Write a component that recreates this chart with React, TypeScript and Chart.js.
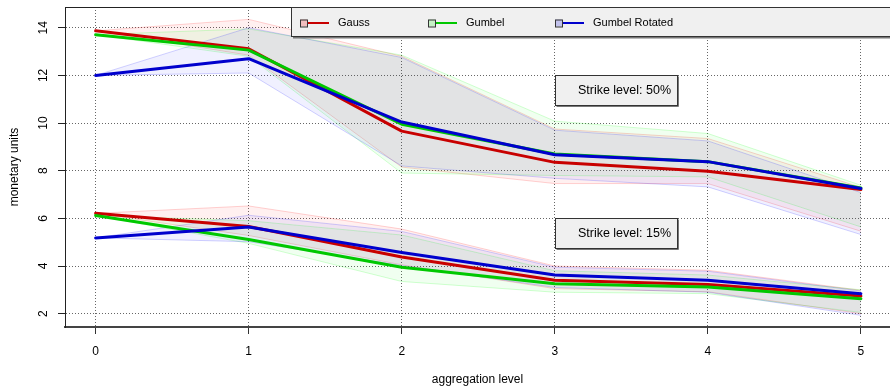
import React, { useEffect, useRef } from 'react';
import { Chart, registerables } from 'chart.js';

Chart.register(...registerables);

// ---------- data ----------
const xLevels = [0, 1, 2, 3, 4, 5];
const xTickValues = [0, 1, 2, 3, 4, 5];
const yTickValues = [2, 4, 6, 8, 10, 12, 14];
const seriesNames = ['Gauss', 'Gumbel', 'Gumbel Rotated'];

// Strike level 50%
const gauss50 = [13.87, 13.12, 9.66, 8.35, 7.98, 7.21];
const gumbel50 = [13.71, 13.06, 9.95, 8.7, 8.38, 7.27];
const gumbelRot50 = [12.0, 12.7, 10.04, 8.67, 8.38, 7.25];
const gauss50Upper = [13.87, 14.35, 12.8, 9.75, 9.35, 7.3];
const gauss50Lower = [13.87, 12.85, 8.15, 7.46, 7.46, 5.46];
const gumbel50Upper = [13.71, 13.95, 12.85, 10.08, 9.56, 7.39];
const gumbel50Lower = [13.71, 12.8, 7.9, 7.8, 7.74, 5.64];
const gumbelRot50Upper = [12.0, 14.0, 12.75, 9.7, 9.25, 7.08];
const gumbelRot50Lower = [12.0, 12.1, 8.2, 7.68, 7.32, 5.32];

// Strike level 15%
const gauss15 = [6.21, 5.66, 4.38, 3.4, 3.22, 2.74];
const gumbel15 = [6.12, 5.11, 3.95, 3.26, 3.12, 2.63];
const gumbelRot15 = [5.18, 5.64, 4.57, 3.62, 3.4, 2.84];
const gauss15Upper = [6.21, 6.52, 5.55, 4.0, 3.82, 2.98];
const gauss15Lower = [6.21, 5.28, 4.05, 3.05, 2.92, 2.0];
const gumbel15Upper = [6.12, 5.9, 5.3, 3.8, 3.62, 3.0];
const gumbel15Lower = [6.12, 4.95, 3.35, 2.9, 2.84, 2.05];
const gumbelRot15Upper = [5.18, 6.13, 5.45, 3.95, 3.78, 2.95];
const gumbelRot15Lower = [5.18, 5.02, 4.02, 3.1, 2.9, 1.93];

const strikeLabels = ['Strike level: 50%', 'Strike level: 15%'];
const strikeAnchorX = [3, 3];
const strikeAnchorY = [12, 6];

// ---------- styles ----------
const FONT = "'Liberation Sans', Arial, Helvetica, sans-serif";
const lineColors = ['rgb(200,0,0)', 'rgb(0,200,0)', 'rgb(0,0,205)'];
const bandFills = ['rgba(255,0,0,0.06)', 'rgba(0,255,0,0.06)', 'rgba(0,0,255,0.06)'];
const bandEdges = ['rgba(255,0,0,0.18)', 'rgba(0,255,0,0.18)', 'rgba(0,0,255,0.18)'];
const swatchFills = ['#f0bebe', '#c6f0c6', '#c2c2ec'];

const pts = (ys: number[]) => xLevels.map((x, i) => ({ x, y: ys[i] }));

function buildDatasets() {
  const ds: any[] = [];
  const bands = [
    [gauss50Upper, gauss50Lower, 0],
    [gumbel50Upper, gumbel50Lower, 1],
    [gumbelRot50Upper, gumbelRot50Lower, 2],
    [gauss15Upper, gauss15Lower, 0],
    [gumbel15Upper, gumbel15Lower, 1],
    [gumbelRot15Upper, gumbelRot15Lower, 2],
  ] as [number[], number[], number][];
  bands.forEach(([up, lo, s], k) => {
    ds.push({
      label: seriesNames[s] + ' upper',
      data: pts(up),
      borderColor: bandEdges[s],
      borderWidth: 1,
      pointRadius: 0,
      fill: false,
      order: 20 - k,
    });
    ds.push({
      label: seriesNames[s] + ' lower',
      data: pts(lo),
      borderColor: bandEdges[s],
      borderWidth: 1,
      pointRadius: 0,
      backgroundColor: bandFills[s],
      fill: '-1',
      order: 20 - k,
    });
  });
  const mains = [
    [gauss50, 0],
    [gumbel50, 1],
    [gumbelRot50, 2],
    [gauss15, 0],
    [gumbel15, 1],
    [gumbelRot15, 2],
  ] as [number[], number][];
  mains.forEach(([ys, s]) => {
    ds.push({
      label: seriesNames[s],
      data: pts(ys),
      borderColor: lineColors[s],
      borderWidth: 3,
      pointRadius: 0,
      fill: false,
      borderCapStyle: 'round',
      borderJoinStyle: 'round',
      order: 3 - s,
    });
  });
  return ds;
}

const overlayPlugin = {
  id: 'overlay',
  afterDraw(chart: any) {
    const { ctx, chartArea: ca, scales } = chart;
    ctx.save();
    // top border of plot box
    ctx.strokeStyle = '#222';
    ctx.lineWidth = 1;
    ctx.beginPath();
    ctx.moveTo(ca.left, Math.round(ca.top) + 0.5);
    ctx.lineTo(ca.right, Math.round(ca.top) + 0.5);
    ctx.stroke();

    // annotation boxes
    strikeLabels.forEach((txt, i) => {
      const px = Math.round(scales.x.getPixelForValue(strikeAnchorX[i]));
      const py = Math.round(scales.y.getPixelForValue(strikeAnchorY[i]));
      const w = 123;
      const h = 31;
      ctx.fillStyle = '#f0f0f0';
      ctx.fillRect(px, py, w, h);
      ctx.strokeStyle = '#777';
      ctx.lineWidth = 1;
      ctx.beginPath();
      ctx.moveTo(px + 1.5, py + h + 0.5);
      ctx.lineTo(px + w + 0.5, py + h + 0.5);
      ctx.lineTo(px + w + 0.5, py + 1.5);
      ctx.stroke();
      ctx.strokeStyle = '#333';
      ctx.strokeRect(px + 0.5, py + 0.5, w - 1, h - 1);
      ctx.fillStyle = '#000';
      ctx.font = `12.5px ${FONT}`;
      ctx.textAlign = 'right';
      ctx.textBaseline = 'middle';
      ctx.fillText(txt, px + w - 7, py + h / 2 + 0.5);
    });

    // legend box
    const lx = 291;
    const ly = Math.round(ca.top);
    const lw = 620;
    const lh = 30;
    ctx.fillStyle = '#f0f0f0';
    ctx.fillRect(lx, ly, lw, lh);
    ctx.strokeStyle = '#777';
    ctx.lineWidth = 1.5;
    ctx.beginPath();
    ctx.moveTo(lx + 2, ly + lh + 0.75);
    ctx.lineTo(lx + lw, ly + lh + 0.75);
    ctx.stroke();
    ctx.strokeStyle = '#333';
    ctx.lineWidth = 1;
    ctx.strokeRect(lx + 0.5, ly + 0.5, lw, lh - 1);

    const itemX = [300, 428, 555];
    const cy = ly + 16;
    ctx.font = `11px ${FONT}`;
    ctx.textAlign = 'left';
    ctx.textBaseline = 'middle';
    seriesNames.forEach((name, i) => {
      const x0 = itemX[i];
      ctx.strokeStyle = lineColors[i];
      ctx.lineWidth = 2;
      ctx.beginPath();
      ctx.moveTo(x0 + 7, cy);
      ctx.lineTo(x0 + 29, cy);
      ctx.stroke();
      ctx.fillStyle = swatchFills[i];
      ctx.fillRect(x0, cy - 3.5, 7, 7);
      ctx.strokeStyle = '#333';
      ctx.lineWidth = 1;
      ctx.strokeRect(x0 + 0.5, cy - 3, 7, 7);
      ctx.fillStyle = '#000';
      ctx.fillText(name, x0 + 38, cy);
    });
    ctx.restore();
  },
};

export default function App() {
  const ref = useRef<HTMLCanvasElement | null>(null);
  useEffect(() => {
    document.body.style.margin = '0';
    const canvas = ref.current;
    if (!canvas) return;
    const chart = new Chart(canvas, {
      type: 'line',
      data: { datasets: buildDatasets() },
      plugins: [overlayPlugin],
      options: {
        animation: false,
        responsive: false,
        devicePixelRatio: 1,
        layout: { padding: { top: 7, left: 0, right: 0, bottom: 0 } },
        plugins: { legend: { display: false }, tooltip: { enabled: false } },
        elements: { line: { tension: 0 } },
        scales: {
          x: {
            type: 'linear',
            min: -0.2,
            max: 5.19,
            afterBuildTicks: (s: any) => {
              s.ticks = xTickValues.map((v) => ({ value: v }));
            },
            afterFit: (s: any) => {
              s.height = 59;
              s.paddingLeft = 0;
              s.paddingRight = 0;
            },
            ticks: {
              autoSkip: false,
              maxRotation: 0,
              minRotation: 0,
              padding: 10,
              color: '#000',
              font: { family: FONT, size: 12 },
              callback: (v: any) => String(v),
            },
            grid: {
              color: '#666',
              lineWidth: 1,
              tickLength: 7,
              tickColor: '#333',
              tickWidth: 1,
              tickBorderDash: [],
            },
            border: { display: true, color: '#444', width: 2, dash: [1, 2] },
            title: {
              display: true,
              text: 'aggregation level',
              color: '#000',
              font: { family: FONT, size: 12, lineHeight: 1 },
              padding: { top: 0, bottom: 0 },
            },
          },
          y: {
            type: 'linear',
            min: 1.44,
            max: 14.87,
            afterBuildTicks: (s: any) => {
              s.ticks = yTickValues.map((v) => ({ value: v }));
            },
            afterFit: (s: any) => {
              s.width = 65;
              s.paddingTop = 0;
              s.paddingBottom = 0;
            },
            ticks: {
              autoSkip: false,
              minRotation: 90,
              maxRotation: 90,
              crossAlign: 'center',
              padding: 8,
              color: '#000',
              font: { family: FONT, size: 12 },
              callback: (v: any) => String(v),
            },
            grid: {
              color: '#666',
              lineWidth: 1,
              tickLength: 7,
              tickColor: '#222',
              tickWidth: 1,
              tickBorderDash: [],
            },
            border: { display: true, color: '#222', width: 1, dash: [1, 2] },
            title: {
              display: true,
              text: 'monetary units',
              color: '#000',
              font: { family: FONT, size: 12, lineHeight: 1.2 },
              padding: { top: 7, bottom: 0 },
            },
          },
        },
      } as any,
    });
    return () => chart.destroy();
  }, []);
  return (
    <div style={{ width: 890, height: 386, overflow: 'hidden' }}>
      <canvas ref={ref} width={890} height={386} style={{ display: 'block' }} />
    </div>
  );
}
